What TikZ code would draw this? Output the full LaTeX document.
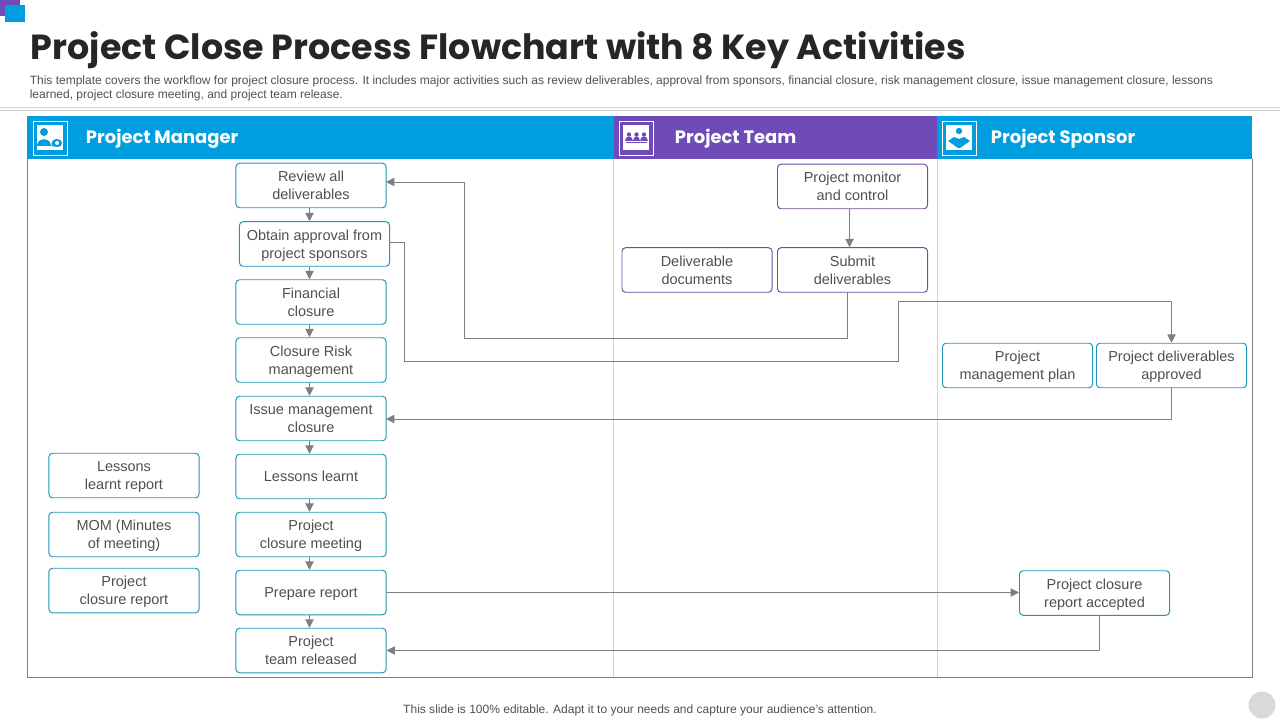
\documentclass[tikz,border=0pt]{standalone}
\usepackage{fontspec}
\setmainfont{Liberation Sans}
\newfontfamily\headfont{Poppins}
\usepackage{tikz}
\usetikzlibrary{arrows.meta}
\definecolor{headblue}{HTML}{009DDF}
\definecolor{headpurple}{HTML}{6F4BB8}
\definecolor{boxteal}{HTML}{1F97B5}
\definecolor{boxpurple}{HTML}{744A9E}
\definecolor{flowgray}{HTML}{7F7F7F}
\definecolor{inktext}{HTML}{505050}
\definecolor{rulegray}{HTML}{D0D0D0}
\tikzset{
    tealbox/.style={draw=boxteal, line width=0.7pt, rounded corners=2.5pt, fill=white, minimum width=150*0.7113pt, minimum height=44.5*0.7113pt, inner sep=0pt, align=center, text depth=0pt, text=inktext, font=\fontsize{10.3}{12.9}\selectfont},
    purplebox/.style={tealbox, draw=boxpurple},
    flow/.style={draw=flowgray, line width=0.7pt, -{Triangle[length=6pt,width=6pt]}},
    headtext/.style={anchor=west, text=white, font=\headfont\bfseries\fontsize{12.75}{16}\selectfont},
}
\begin{document}
\begin{tikzpicture}[x=0.025cm, y=-0.025cm]
        \useasboundingbox (0,0) rectangle (1280,720);
        \fill[headpurple] (0,0) rectangle (20,16);
        \fill[headblue] (5,5) rectangle (25,22);
        \node[anchor=west, text=black!85, font=\headfont\bfseries\fontsize{24.8}{30}\selectfont] (title) at (26,50) {Project Close Process Flowchart with 8 Key Activities};
        \node[anchor=north west, inner sep=0pt, align=left, text=inktext, font=\fontsize{8.54}{10.2}\selectfont] (intro) at (29.5,75.5) {This template covers the workflow for project closure process. It includes major activities such as review deliverables, approval from sponsors, financial closure, risk management closure, issue management closure, lessons\\learned, project closure meeting, and project team release.};
        \draw[rulegray] (0,107) -- (1280,107) (0,110) -- (1280,110);

        \fill[headblue] (27,116) rectangle (614,159);
        \fill[headpurple] (614,116) rectangle (937,159);
        \fill[headblue] (937,116) rectangle (1252,159);
        \draw[rulegray] (613.5,159) -- (613.5,678) (937,159) -- (937,678);
        \draw[flowgray, line width=0.7pt] (27.5,159) -- (27.5,677.5) -- (1252.5,677.5) -- (1252.5,159);
        \node[headtext] (headmanager) at (81,139) {Project Manager};
        \node[headtext] (headteam) at (670,139) {Project Team};
        \node[headtext] (headsponsor) at (986,139) {Project Sponsor};

        \foreach \x in {33,619,942} {
            \draw[white, line width=0.6pt] (\x,121) rectangle (\x+34,155);
            \fill[white] (\x+3.5,125) rectangle (\x+29.5,150);
        }
        \fill[headblue] (44,132) circle[radius=4];
        \fill[headblue] (37,146) .. controls (37,137) and (51,137) .. (51,146) -- cycle;
        \fill[headblue] (51.5,146) .. controls (51,141) and (54,139) .. (57,139) .. controls (60,139) and (62,141) .. (62,143) .. controls (62,146) and (60,147) .. (57,147) -- cycle;
        \fill[white] (57,143) circle[radius=2];
        \foreach \x in {629,636.5,644} {
            \fill[headpurple] (\x,134.5) circle[radius=2.2];
            \fill[headpurple] (\x-3.7,141) .. controls (\x-3.7,135.5) and (\x+3.7,135.5) .. (\x+3.7,141) -- cycle;
        }
        \draw[headpurple, line width=0.5pt] (626,142.5) -- (647,142.5);
        \fill[headblue] (959,131) circle[radius=3.2];
        \fill[headblue] (948,141) -- (954,137) -- (959,139) -- (964,137) -- (970,141) -- (960,148) -- (958,148) -- cycle;

        \foreach \name/\y/\txt in {
            review/185.5/{Review all\\deliverables},
            financial/302/{Financial\\closure},
            risk/360/{Closure Risk\\management},
            issue/418.5/{Issue management\\closure},
            learnt/476.5/{Lessons learnt},
            meeting/534.5/{Project\\closure meeting},
            prepare/592.5/{Prepare report},
            released/650.5/{Project\\team released}}
            \node[tealbox] (\name) at (311,\y) {\txt};
        \node[tealbox] (approval) at (314.5,244) {Obtain approval from\\project sponsors};

        \node[tealbox] (learntreport) at (124,475.5) {Lessons\\learnt report};
        \node[tealbox] (mom) at (124,534.5) {MOM (Minutes\\of meeting)};
        \node[tealbox] (closurereport) at (124,590.5) {Project\\closure report};

        \node[purplebox] (monitor) at (852.5,186.5) {Project monitor\\and control};
        \node[purplebox] (documents) at (697,270) {Deliverable\\documents};
        \node[purplebox] (submit) at (852.5,270) {Submit\\deliverables};

        \node[tealbox] (plan) at (1017.5,365.5) {Project\\management plan};
        \node[tealbox] (approved) at (1171.5,365.5) {Project deliverables\\approved};
        \node[tealbox] (accepted) at (1094.5,593) {Project closure\\report accepted};

        \foreach \a/\b in {review/approval, approval/financial, financial/risk, risk/issue, issue/learnt, learnt/meeting, meeting/prepare, prepare/released}
            \draw[flow] (\a.south -| 309.5,0) -- (\b.north -| 309.5,0);
        \draw[flow] (monitor.south -| 849.5,0) -- (submit.north -| 849.5,0);

        \coordinate (submitout) at (847.5,292);
        \coordinate (reviewin) at (386,182);
        \draw[flow] (submitout) |- (464.5,338) |- (reviewin);
        \coordinate (approvalout) at (390,242);
        \draw[flow] (approvalout) -- (404.5,242) |- (898,361) |- (1171.5,301) -- (approved.north);
        \coordinate (issuein) at (386,419);
        \draw[flow] (approved.south) |- (issuein);
        \draw[flow] (prepare.east) -- (accepted.west |- prepare.east);
        \coordinate (acceptedout) at (1099.5,615);
        \draw[flow] (acceptedout) |- (released.east);

        \node[text=inktext, font=\fontsize{8.54}{10.2}\selectfont] (footer) at (640,710.5) {This slide is 100\% editable. Adapt it to your needs and capture your audience's attention.};
        \fill[gray!30] (1262,705) circle[radius=13.5];
    \end{tikzpicture}
\end{document}
